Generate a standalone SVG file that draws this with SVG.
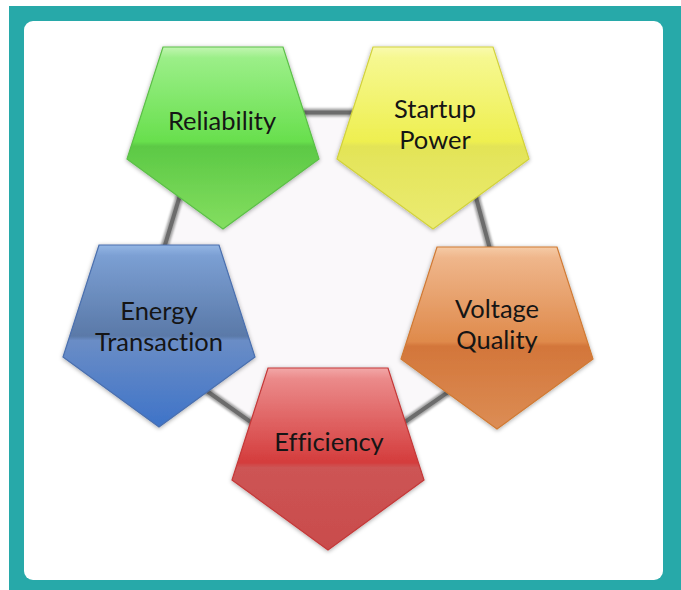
<svg xmlns="http://www.w3.org/2000/svg" width="681" height="590" viewBox="0 0 681 590">
<defs>
<style>
.lbl{font-family:Lato,"Open Sans","Liberation Sans",sans-serif;font-size:25.5px;fill:#151515;text-anchor:middle;font-variant-ligatures:none}
.node{stroke-width:1.2;filter:url(#sh)}
.ringBack{fill:none;stroke:#a3a3a3;stroke-width:8;stroke-linecap:round}
.ringCore{fill:none;stroke:#6c6c6c;stroke-width:4;stroke-linecap:round}
</style>
<filter id="sh" x="-10%" y="-10%" width="120%" height="120%">
<feDropShadow dx="0" dy="1" stdDeviation="2" flood-color="#000" flood-opacity="0.35"/>
</filter>
<filter id="lsh" x="-10%" y="-10%" width="120%" height="120%">
<feGaussianBlur stdDeviation="0.8"/>
</filter>
<linearGradient id="gGreen" x1="0" y1="0" x2="0" y2="1">
<stop offset="0" stop-color="#c2f5b2"/>
<stop offset="0.06" stop-color="#9bef88"/>
<stop offset="0.52" stop-color="#68df4d"/>
<stop offset="0.545" stop-color="#5cc945"/>
<stop offset="1" stop-color="#84de60"/>
</linearGradient>
<linearGradient id="gYellow" x1="0" y1="0" x2="0" y2="1">
<stop offset="0" stop-color="#f9faae"/>
<stop offset="0.06" stop-color="#f6f890"/>
<stop offset="0.52" stop-color="#eeef50"/>
<stop offset="0.545" stop-color="#e3e457"/>
<stop offset="1" stop-color="#ebeb72"/>
</linearGradient>
<linearGradient id="gBlue" x1="0" y1="0" x2="0" y2="1">
<stop offset="0" stop-color="#94b6e4"/>
<stop offset="0.06" stop-color="#7b9fd3"/>
<stop offset="0.5" stop-color="#5a79a8"/>
<stop offset="0.525" stop-color="#6a8dc6"/>
<stop offset="1" stop-color="#3e73c8"/>
</linearGradient>
<linearGradient id="gOrange" x1="0" y1="0" x2="0" y2="1">
<stop offset="0" stop-color="#f5cba6"/>
<stop offset="0.06" stop-color="#efb68b"/>
<stop offset="0.52" stop-color="#df8a4b"/>
<stop offset="0.545" stop-color="#d3763a"/>
<stop offset="1" stop-color="#dc8d55"/>
</linearGradient>
<linearGradient id="gRed" x1="0" y1="0" x2="0" y2="1">
<stop offset="0" stop-color="#f2a8a8"/>
<stop offset="0.06" stop-color="#eb8a8a"/>
<stop offset="0.52" stop-color="#d43c3c"/>
<stop offset="0.545" stop-color="#cd5454"/>
<stop offset="1" stop-color="#c94c4c"/>
</linearGradient>
</defs>

<g id="background">
<rect x="0" y="0" width="681" height="590" fill="#ffffff"/>
<rect x="9" y="6" width="672" height="584" fill="#27a9a9"/>
<rect x="24" y="21" width="639" height="559" rx="9" fill="#ffffff"/>
</g>

<g id="connectors">
<polygon points="205,112.5 453,112.5 516,345 327,476 136,341" fill="#faf8fa" stroke="none"/>
<g filter="url(#lsh)">
<polygon class="ringBack" points="205,112.5 453,112.5 516,345 327,476 136,341"/>
</g>
<polygon class="ringCore" points="205,112.5 453,112.5 516,345 327,476 136,341"/>
</g>

<g id="node-reliability">
<polygon class="node" points="163,47 283,47 319,159 223,229 127,159" fill="url(#gGreen)" stroke="#5cbf48"/>
<text class="lbl" x="222" y="130">Reliability</text>
</g>

<g id="node-startup-power">
<polygon class="node" points="373,47 493,47 529,159 433,229 337,159" fill="url(#gYellow)" stroke="#d2d23c"/>
<text class="lbl" x="435" y="118">Startup</text>
<text class="lbl" x="435" y="149">Power</text>
</g>

<g id="node-energy-transaction">
<polygon class="node" points="99,245 219,245 255,357 159,427 63,357" fill="url(#gBlue)" stroke="#4a6fae"/>
<text class="lbl" x="159" y="320">Energy</text>
<text class="lbl" x="159" y="351">Transaction</text>
</g>

<g id="node-voltage-quality">
<polygon class="node" points="437,247 557,247 593,359 497,429 401,359" fill="url(#gOrange)" stroke="#d07a34"/>
<text class="lbl" x="497" y="318">Voltage</text>
<text class="lbl" x="497" y="349">Quality</text>
</g>

<g id="node-efficiency">
<polygon class="node" points="268,368 388,368 424,480 328,550 232,480" fill="url(#gRed)" stroke="#c43838"/>
<text class="lbl" x="329" y="451">Efficiency</text>
</g>
</svg>
